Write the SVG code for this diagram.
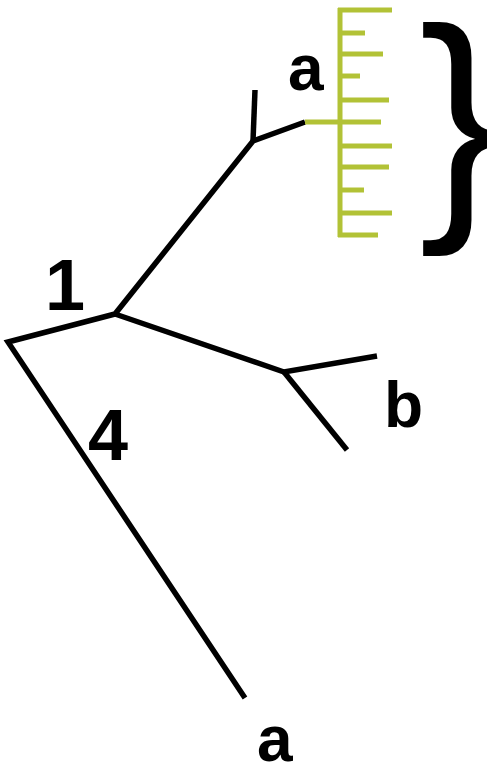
<svg xmlns="http://www.w3.org/2000/svg" width="487" height="765" viewBox="0 0 487 765">
<style>
.br{stroke:#000;stroke-width:5.5;fill:none;stroke-linecap:butt;stroke-linejoin:miter}
.g{stroke:#b2c236;stroke-width:5;fill:none}
.t{font-family:"Liberation Sans",Arial,sans-serif;font-weight:bold;font-size:64px;fill:#000}
.d{font-family:"Liberation Sans",Arial,sans-serif;font-weight:bold;font-size:72px;fill:#000}
</style>
<rect width="487" height="765" fill="#fff"/>
<g id="connectors">
<polyline class="br" points="245,698 8,342 115,314 253,141 305,122"/>
<line class="br" x1="253" y1="141" x2="255" y2="90"/>
<polyline class="br" points="115,314 284,372 377,356"/>
<line class="br" x1="284" y1="372" x2="347" y2="450"/>
</g>
<g id="scale">
<line class="g" x1="305" y1="122" x2="340" y2="122"/>
<line class="g" x1="340" y1="8" x2="340" y2="237"/>
<line class="g" x1="338" y1="10" x2="392" y2="10"/>
<line class="g" x1="340" y1="33" x2="365" y2="33"/>
<line class="g" x1="340" y1="54" x2="383" y2="54"/>
<line class="g" x1="340" y1="76" x2="360" y2="76"/>
<line class="g" x1="340" y1="100" x2="389" y2="100"/>
<line class="g" x1="340" y1="122" x2="381" y2="122"/>
<line class="g" x1="340" y1="146" x2="392" y2="146"/>
<line class="g" x1="340" y1="167" x2="389" y2="167"/>
<line class="g" x1="340" y1="190" x2="364" y2="190"/>
<line class="g" x1="340" y1="213" x2="392" y2="213"/>
<line class="g" x1="338" y1="235" x2="378" y2="235"/>
</g>
<g id="brace"><text x="419" y="204" style="font-family:'Liberation Sans',Arial,sans-serif;font-size:250px">}</text></g>
<g id="label-a-top"><text class="t" x="288" y="90">a</text></g>
<g id="label-1"><text class="d" x="45" y="310">1</text></g>
<g id="label-4"><text class="d" x="88" y="460">4</text></g>
<g id="label-b"><text class="t" x="384" y="427">b</text></g>
<g id="label-a-bottom"><text class="t" x="257" y="761">a</text></g>
</svg>
